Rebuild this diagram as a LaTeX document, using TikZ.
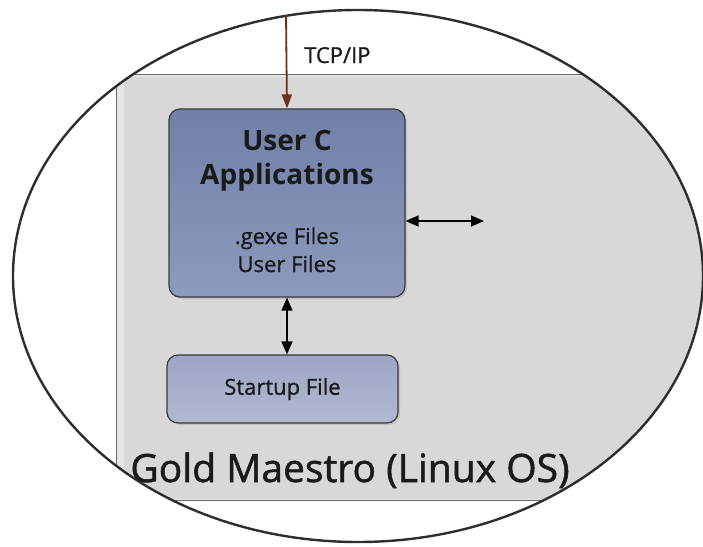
\documentclass[tikz,border=0pt]{standalone}
\usepackage{fontspec}
\setmainfont{Open Sans}
\newfontfamily\medfont[FakeBold=0.9]{Open Sans}
\newfontfamily\titlefont[FakeBold=1.3]{Open Sans}
\usetikzlibrary{arrows.meta,shadows}
\definecolor{ringcol}{HTML}{2E2E2E}
\definecolor{stripgray}{HTML}{E6E6E6}
\definecolor{panelgray}{HTML}{D9D8D8}
\definecolor{edgegray}{HTML}{6A6A6A}
\definecolor{apptop}{HTML}{7080A8}
\definecolor{appbot}{HTML}{8D9ABD}
\definecolor{sttop}{HTML}{9EA6C5}
\definecolor{stbot}{HTML}{B2B8D1}
\definecolor{boxedge}{HTML}{3A3A3A}
\definecolor{tcpbrown}{HTML}{6E2F1F}
\definecolor{txt}{HTML}{1A1A1A}
\tikzset{
  bluebox/.style={draw=boxedge, line width=1.2pt, rounded corners=11pt,
    drop shadow={opacity=0.25, shadow xshift=2pt, shadow yshift=-2pt}},
  appbox/.style={bluebox, top color=apptop, bottom color=appbot,
    minimum width=236pt, minimum height=188pt},
  startbox/.style={bluebox, top color=sttop, bottom color=stbot,
    minimum width=231pt, minimum height=68pt, text=txt,
    font=\medfont\fontsize{22}{26}\selectfont},
  boxtext/.style={text=txt, inner sep=0pt, anchor=base},
  linkarrow/.style={line width=1.3pt, black, {Triangle[length=13pt,width=11pt]}-{Triangle[length=13pt,width=11pt]}},
}
\begin{document}
\begin{tikzpicture}[x=1pt,y=-1pt]
\useasboundingbox (0,0) rectangle (703,546);
\begin{scope}
  \clip (358,276) ellipse [x radius=345, y radius=266];
  \fill[white] (0,0) rectangle (703,546);
  \draw[fill=stripgray, draw=edgegray, line width=1pt] (116,74) rectangle (760,500);
  \fill[panelgray, rounded corners=9pt] (124,77) rectangle (760,499);
\end{scope}
\draw[ringcol, line width=2.4pt] (358,276) ellipse [x radius=345, y radius=266];

% boxes
\node[appbox] (app) at (287,203) {};
\node[boxtext, font=\fontsize{28}{32}\selectfont\bfseries] (t1) at (287,150) {User C};
\node[boxtext, font=\fontsize{28}{32}\selectfont\bfseries] (t2) at (287,184) {Applications};
\node[boxtext, font=\medfont\fontsize{22}{26}\selectfont] (t3) at (287,244) {.gexe Files};
\node[boxtext, font=\medfont\fontsize{22}{26}\selectfont] (t4) at (287,272) {User Files};
\node[startbox] (start) at (282.5,389) {Startup File};

% title
\node[boxtext, font=\titlefont\fontsize{39}{44}\selectfont] (title) at (350,482) {Gold Maestro (Linux OS)};

% TCP/IP link
\coordinate (tcptop) at (286,15);
\draw[tcpbrown, line width=1.8pt, -{Triangle[length=14pt,width=10pt]}] (tcptop) -- (app.north);
\node[boxtext, font=\medfont\fontsize{22}{24}\selectfont, anchor=base west] (tcp) at (304,63) {TCP/IP};

% other links
\coordinate (hend) at (484,221);
\draw[linkarrow] (app.east |- hend) -- (hend);
\draw[linkarrow] (app.south) -- (app.south |- start.north);
\end{tikzpicture}
\end{document}
